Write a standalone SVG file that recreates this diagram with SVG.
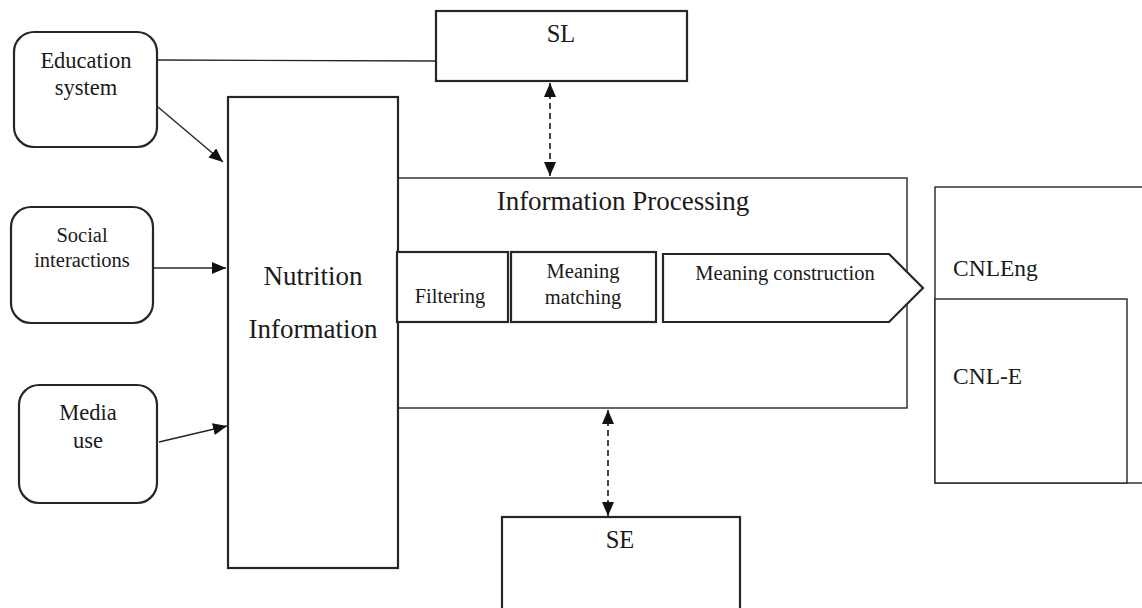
<svg xmlns="http://www.w3.org/2000/svg" width="1142" height="608" viewBox="0 0 1142 608">
<defs>
<style>
.t{font-family:"Liberation Serif","Times New Roman",serif;fill:#1a1a1a;text-anchor:middle}
.tl{font-family:"Liberation Serif","Times New Roman",serif;fill:#1a1a1a}
.bx{fill:#fff;stroke:#262626;stroke-width:2.2}
.thin{fill:#fff;stroke:#262626;stroke-width:1.4}
.c{fill:none;stroke:#262626;stroke-width:1.4}
.d{fill:none;stroke:#1a1a1a;stroke-width:1.6;stroke-dasharray:6 4}
</style>
<marker id="ah" markerWidth="14" markerHeight="12" refX="14" refY="6" orient="auto-start-reverse" markerUnits="userSpaceOnUse">
<path d="M0,0 L14,6 L0,12 Z" fill="#111"/>
</marker>
</defs>
<rect width="1142" height="608" fill="#fff"/>

<g id="connectors">
<line class="c" x1="157" y1="60" x2="436" y2="61" stroke="#555"/>
<line class="c" x1="158" y1="107" x2="223" y2="162" marker-end="url(#ah)"/>
<line class="c" x1="153" y1="268" x2="226" y2="268" marker-end="url(#ah)"/>
<line class="c" x1="159" y1="442" x2="227" y2="426" marker-end="url(#ah)"/>
<line class="d" x1="550" y1="83" x2="550" y2="176" marker-start="url(#ah)" marker-end="url(#ah)"/>
<line class="d" x1="608" y1="410" x2="608" y2="516" marker-start="url(#ah)" marker-end="url(#ah)"/>
</g>

<g id="education">
<rect class="bx" x="14" y="32" width="143" height="115" rx="20"/>
<text class="t" x="86" y="68" font-size="22.5">Education</text>
<text class="t" x="86" y="95" font-size="22.5">system</text>
</g>

<g id="social">
<rect class="bx" x="11" y="207" width="142" height="116" rx="20"/>
<text class="t" x="82" y="242" font-size="20.5">Social</text>
<text class="t" x="82" y="267" font-size="20.5">interactions</text>
</g>

<g id="media">
<rect class="bx" x="19" y="385" width="138" height="118" rx="20"/>
<text class="t" x="88" y="420" font-size="22.5">Media</text>
<text class="t" x="88" y="448" font-size="22.5">use</text>
</g>

<g id="sl">
<rect class="bx" x="436" y="11" width="251" height="70"/>
<text class="t" x="561" y="42" font-size="24.5">SL</text>
</g>

<g id="se">
<rect class="bx" x="502" y="517" width="238" height="100"/>
<text class="t" x="620" y="548" font-size="24.5">SE</text>
</g>

<g id="info-processing">
<rect class="thin" x="398" y="178" width="509" height="230"/>
<text class="t" x="623" y="210" font-size="27">Information Processing</text>
</g>

<g id="nutrition">
<rect class="bx" x="228" y="97" width="170" height="471"/>
<text class="t" x="313" y="285" font-size="27">Nutrition</text>
<text class="t" x="313" y="338" font-size="27">Information</text>
</g>

<g id="filtering">
<rect class="bx" x="397" y="252" width="111" height="70"/>
<text class="t" x="450" y="303" font-size="20.5">Filtering</text>
</g>

<g id="meaning-matching">
<rect class="bx" x="511" y="252" width="145" height="70"/>
<text class="t" x="583" y="278" font-size="20.5">Meaning</text>
<text class="t" x="583" y="304" font-size="20.5">matching</text>
</g>

<g id="meaning-construction">
<path class="bx" d="M663,254 L889,254 L923,288 L889,322 L663,322 Z"/>
<text class="t" x="785" y="280" font-size="20.5">Meaning construction</text>
</g>

<g id="cnleng">
<rect class="thin" x="935" y="187" width="220" height="296"/>
<text class="tl" x="953" y="276" font-size="23.5">CNLEng</text>
</g>

<g id="cnl-e">
<rect class="thin" x="935" y="299" width="192" height="184"/>
<text class="tl" x="953" y="384" font-size="23.5">CNL-E</text>
</g>
</svg>
